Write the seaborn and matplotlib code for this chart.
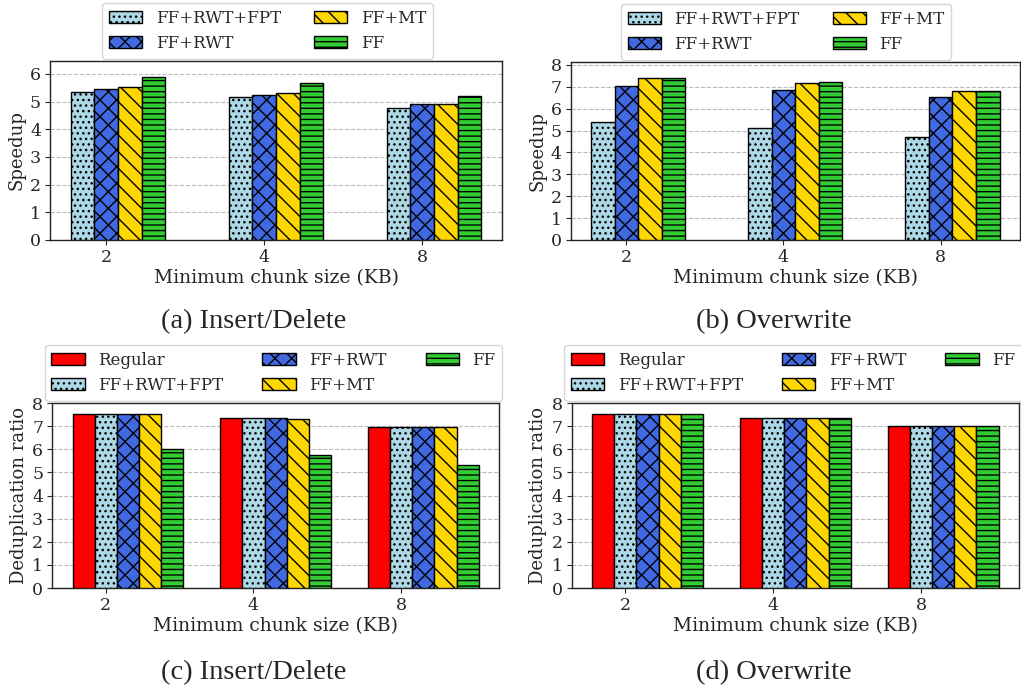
import matplotlib
matplotlib.use("Agg")
import matplotlib.pyplot as plt
import seaborn as sns
import pandas as pd

sizes = ["2", "4", "8"]

speed_series = ["FF+RWT+FPT", "FF+RWT", "FF+MT", "FF"]
speed_insert = {
    "FF+RWT+FPT": [5.34, 5.15, 4.78],
    "FF+RWT": [5.45, 5.24, 4.92],
    "FF+MT": [5.53, 5.32, 4.92],
    "FF": [5.88, 5.68, 5.21],
}
speed_overwrite = {
    "FF+RWT+FPT": [5.37, 5.10, 4.69],
    "FF+RWT": [7.05, 6.85, 6.53],
    "FF+MT": [7.41, 7.18, 6.83],
    "FF": [7.41, 7.20, 6.83],
}

dedup_series = ["Regular", "FF+RWT+FPT", "FF+RWT", "FF+MT", "FF"]
dedup_insert = {
    "Regular": [7.52, 7.35, 6.96],
    "FF+RWT+FPT": [7.52, 7.35, 6.96],
    "FF+RWT": [7.52, 7.35, 6.96],
    "FF+MT": [7.52, 7.33, 6.95],
    "FF": [6.00, 5.77, 5.34],
}
dedup_overwrite = {
    "Regular": [7.52, 7.36, 7.01],
    "FF+RWT+FPT": [7.52, 7.36, 7.01],
    "FF+RWT": [7.52, 7.36, 7.01],
    "FF+MT": [7.52, 7.36, 7.01],
    "FF": [7.52, 7.36, 7.01],
}

colors = {
    "Regular": "red",
    "FF+RWT+FPT": "lightblue",
    "FF+RWT": "royalblue",
    "FF+MT": "gold",
    "FF": "limegreen",
}
hatches = {
    "Regular": "",
    "FF+RWT+FPT": "...",
    "FF+RWT": "xx",
    "FF+MT": "\\\\",
    "FF": "---",
}

sns.set_style("white")
plt.rcParams["font.family"] = ["DejaVu Serif"]
plt.rcParams["hatch.color"] = "black"
plt.rcParams["hatch.linewidth"] = 1.0

W = 0.15

fig = plt.figure(figsize=(10.21, 6.88), dpi=100)


def panel(rect, data, series, ylabel, ylim, yticks, ncol, leg_x, colsp):
    ax = fig.add_axes(rect)
    rows = []
    for s in series:
        for sz, v in zip(sizes, data[s]):
            rows.append({"size": sz, "series": s, "value": v})
    df = pd.DataFrame(rows)
    n = len(series)
    sns.barplot(data=df, x="size", y="value", hue="series", order=sizes,
                hue_order=series, palette=colors, width=n * W, saturation=1,
                edgecolor="black", linewidth=1.0, errorbar=None, ax=ax,
                legend=False, zorder=3)
    for s, cont in zip(series, ax.containers):
        for p in cont:
            p.set_hatch(hatches[s])
            p.set_edgecolor("black")
    off = (1 - (n - 1) / 2) * W
    ax.set_xticks([i + off for i in range(3)], sizes)
    rng = 2 + n * W
    ax.set_xlim(-n * W / 2 - 0.05 * rng, 2 + n * W / 2 + 0.05 * rng)
    ax.set_ylim(*ylim)
    ax.set_yticks(yticks)
    ax.yaxis.grid(True, linestyle="--", color="gray", alpha=0.55, linewidth=0.8)
    ax.set_axisbelow(True)
    ax.set_xlabel("Minimum chunk size (KB)", fontsize=13.5, labelpad=2)
    ax.set_ylabel(ylabel, fontsize=13, labelpad=3)
    ax.tick_params(axis="both", labelsize=12.5, length=3.5, width=0.8,
                   direction="out", bottom=True, left=True, pad=3)
    for sp in ax.spines.values():
        sp.set_color("#222222")
        sp.set_linewidth(1.0)
    ax.legend(handles=list(ax.containers), labels=series, loc="lower center",
              bbox_to_anchor=(leg_x, 1.012), borderaxespad=0, ncol=ncol,
              fontsize=12, columnspacing=colsp, frameon=True)
    return ax


panel([0.049, 0.6512, 0.4427, 0.2602], speed_insert, speed_series, "Speedup",
      (0, 5.88 * 1.1), range(0, 7), 2, 0.481, 2.0)
panel([0.5588, 0.6512, 0.4402, 0.2592], speed_overwrite, speed_series, "Speedup",
      (0, 7.41 * 1.1), range(0, 9), 2, 0.48, 2.0)
panel([0.0512, 0.1453, 0.4375, 0.2689], dedup_insert, dedup_series,
      "Deduplication ratio", (0, 8), range(0, 9), 3, 0.495, 2.35)
panel([0.56, 0.1453, 0.438, 0.2689], dedup_overwrite, dedup_series,
      "Deduplication ratio", (0, 8), range(0, 9), 3, 0.495, 2.35)

cap_kw = dict(ha="center", va="center", fontsize=20.5, family="Liberation Serif")
fig.text(254 / 1021, 1 - 322 / 688, "(a) Insert/Delete", **cap_kw)
fig.text(774 / 1021, 1 - 322 / 688, "(b) Overwrite", **cap_kw)
fig.text(254 / 1021, 1 - 673 / 688, "(c) Insert/Delete", **cap_kw)
fig.text(774 / 1021, 1 - 673 / 688, "(d) Overwrite", **cap_kw)

fig.savefig("out.png", dpi=100)
